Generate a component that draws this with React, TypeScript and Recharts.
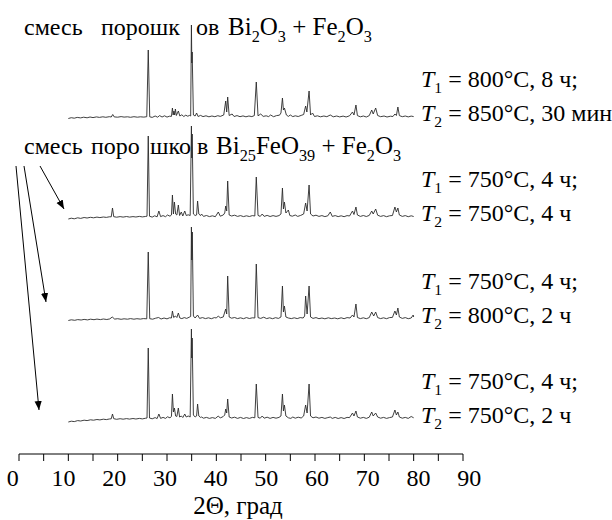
import React from 'react';
import { LineChart, Line, XAxis, YAxis } from 'recharts';

// 2θ (deg) and intensity (arb., baseline ~0) for every pattern
const pattern1: [number, number][] = [
  [10.0, -0.5], [10.6, 0.3], [11.2, -0.2], [11.8, 0.6], [12.5, 0.1], [13.1, 0.8], [13.8, 0.2], [14.4, 1.0],
  [15.0, 0.4], [15.7, 1.1], [16.3, 0.6], [17.0, 1.2], [17.6, 0.7], [18.3, 1.3], [18.7, 1.0], [19.0, 3.5],
  [19.3, 1.1], [20.0, 0.8], [20.7, 1.4], [21.3, 0.9], [22.0, 1.2], [22.6, 0.7], [23.3, 1.3], [24.0, 0.8],
  [24.6, 1.2], [25.3, 0.9], [25.9, 1.3], [26.2, 68], [26.5, 1.2], [27.0, 0.6], [27.6, 2.0], [28.1, 0.8],
  [28.5, 2.4], [29.0, 1.0], [29.5, 2.2], [30.0, 0.9], [30.5, 1.8], [30.9, 1.6], [31.1, 10], [31.25, 3],
  [31.4, 7], [31.55, 3], [31.7, 9], [31.9, 2.5], [32.3, 7], [32.6, 2], [33.0, 3.2], [33.4, 1.5],
  [33.8, 2.8], [34.2, 1.8], [34.6, 2.6], [34.8, 2], [34.95, 93], [35.03, 55], [35.1, 66], [35.35, 3],
  [35.7, 2], [36.0, 5], [36.3, 1.5], [36.8, 2.6], [37.3, 1.4], [37.9, 2.2], [38.5, 1.2], [39.1, 2.0],
  [39.7, 1.3], [40.3, 2.3], [40.8, 1.6], [41.5, 3], [41.9, 17], [42.1, 6], [42.3, 21], [42.6, 2.5],
  [43.2, 4], [43.6, 1.5], [44.2, 2.4], [44.8, 1.3], [45.4, 2.1], [46.0, 1.2], [46.6, 2.0], [47.2, 1.4],
  [47.7, 2.4], [48.1, 36], [48.45, 2.2], [49.0, 4], [49.5, 1.6], [50.1, 2.2], [50.6, 1.4], [51.0, 3],
  [51.6, 1.3], [52.2, 2.4], [52.8, 2.8], [53.1, 5], [53.4, 20], [53.6, 8], [53.8, 10], [54.2, 3],
  [54.6, 1.6], [55.0, 3], [55.5, 1.4], [56.0, 2.2], [56.6, 1.5], [57.2, 2.6], [57.7, 3.5], [58.1, 12],
  [58.35, 6], [58.8, 27], [59.1, 3], [59.5, 5], [59.9, 1.5], [60.5, 2.2], [61.1, 1.2], [61.8, 2.0],
  [62.4, 1.3], [63.1, 3], [63.7, 1.2], [64.4, 2.0], [65.0, 1.1], [65.7, 1.9], [66.3, 1.0], [67.0, 2.2],
  [67.6, 6], [67.9, 3], [68.3, 13], [68.6, 2.4], [69.2, 1.2], [69.8, 2.0], [70.4, 1.0], [71.0, 2.4],
  [71.5, 8], [71.8, 4], [72.3, 10], [72.7, 2.5], [73.3, 1.3], [74.0, 2.0], [74.6, 1.0], [75.3, 1.8],
  [75.8, 1.5], [76.2, 4], [76.5, 2.5], [76.8, 11], [77.1, 2.4], [77.7, 1.3], [78.3, 2.0], [78.9, 1.1],
  [79.5, 1.9], [80.0, 1.4],
];

const pattern2: [number, number][] = [
  [10.0, -1], [10.6, -0.2], [11.2, -0.8], [11.9, 0.2], [12.5, -0.4], [13.2, 0.5], [13.8, 0], [14.5, 0.7],
  [15.1, 0.2], [15.8, 0.9], [16.4, 0.4], [17.1, 1.0], [17.7, 0.6], [18.3, 1.2], [18.7, 1.2], [18.95, 10],
  [19.2, 1.3], [19.8, 0.8], [20.5, 1.4], [21.1, 0.9], [21.8, 1.5], [22.4, 0.9], [23.1, 1.4], [23.7, 1.0],
  [24.4, 1.6], [25.0, 1.1], [25.6, 1.5], [25.95, 1.8], [26.2, 82], [26.45, 1.8], [27.0, 0.9], [27.5, 2.2],
  [28.0, 1.2], [28.35, 7], [28.7, 1.4], [29.2, 2.4], [29.7, 1.3], [30.1, 3.0], [30.6, 1.8], [30.9, 3],
  [31.1, 23], [31.3, 4], [31.5, 16], [31.75, 4], [32.0, 3], [32.3, 13], [32.55, 2.5], [32.9, 6],
  [33.2, 2], [33.6, 7], [33.9, 2.5], [34.3, 3.2], [34.7, 2.5], [34.95, 92], [35.02, 60], [35.1, 84],
  [35.35, 4], [35.7, 2.5], [36.0, 3], [36.2, 17], [36.45, 4], [36.8, 2.4], [37.0, 4], [37.4, 1.6],
  [38.0, 2.5], [38.6, 1.4], [39.2, 2.2], [39.8, 1.3], [40.4, 6], [40.8, 1.8], [41.4, 3], [41.7, 5],
  [41.9, 12], [42.1, 7], [42.3, 37], [42.6, 3], [43.1, 2.0], [43.7, 2.8], [44.3, 1.6], [44.9, 2.4],
  [45.5, 1.4], [46.1, 2.2], [46.7, 1.5], [47.3, 2.4], [47.8, 2.0], [48.1, 41], [48.45, 2.6], [48.9, 1.6],
  [49.3, 4], [49.7, 1.6], [50.3, 2.6], [50.9, 1.5], [51.5, 2.4], [52.1, 1.6], [52.7, 2.4], [53.1, 4],
  [53.4, 30], [53.6, 9], [53.8, 16], [54.1, 5], [54.6, 8], [54.9, 2.5], [55.4, 1.8], [56.0, 3],
  [56.5, 1.6], [57.1, 2.6], [57.7, 4], [58.1, 15], [58.4, 7], [58.8, 33], [59.1, 4], [59.6, 2.0],
  [60.2, 2.8], [60.8, 1.6], [61.4, 2.4], [62.0, 1.4], [62.6, 2.2], [63.1, 6], [63.5, 1.6], [64.1, 2.4],
  [64.7, 1.4], [65.3, 2.2], [65.9, 1.3], [66.5, 2.4], [67.0, 2.0], [67.6, 7], [67.9, 3.5], [68.3, 11],
  [68.6, 3], [69.2, 1.6], [69.8, 2.5], [70.4, 1.5], [71.0, 2.6], [71.5, 7], [71.8, 4], [72.3, 9],
  [72.7, 2.8], [73.3, 1.6], [73.9, 2.4], [74.5, 1.3], [75.1, 2.2], [75.7, 2.5], [76.2, 11], [76.5, 6],
  [76.8, 10], [77.1, 3], [77.7, 1.6], [78.3, 2.4], [78.9, 1.3], [79.5, 2.2], [80.0, 1.5],
];

const pattern3: [number, number][] = [
  [10.0, -0.5], [10.6, 0.2], [11.3, -0.3], [11.9, 0.4], [12.6, 0], [13.2, 0.6], [13.9, 0.1], [14.5, 0.8],
  [15.2, 0.3], [15.8, 0.9], [16.5, 0.4], [17.1, 1.0], [17.8, 0.5], [18.4, 1.1], [18.9, 3], [19.4, 0.9],
  [20.0, 1.3], [20.7, 0.7], [21.3, 1.2], [22.0, 0.8], [22.6, 1.4], [23.3, 0.8], [23.9, 1.3], [24.6, 0.9],
  [25.2, 1.4], [25.9, 1.2], [26.2, 68], [26.5, 1.3], [27.1, 0.8], [27.7, 1.8], [28.3, 2.5], [28.8, 1.0],
  [29.4, 2.0], [30.0, 1.1], [30.5, 2.2], [30.9, 2.0], [31.1, 9], [31.35, 2.5], [31.7, 4], [32.0, 2.5],
  [32.3, 7], [32.6, 2], [33.0, 1.4], [33.5, 2.4], [34.0, 1.6], [34.5, 2.8], [34.8, 3.5], [34.95, 93],
  [35.03, 60], [35.12, 88], [35.35, 4], [35.7, 2], [36.2, 5], [36.6, 1.6], [37.2, 2.4], [37.8, 1.4],
  [38.4, 2.2], [39.0, 1.3], [39.6, 2.4], [40.0, 2.0], [40.4, 4], [40.8, 2.2], [41.4, 3], [41.9, 11],
  [42.1, 6], [42.3, 44], [42.6, 3], [43.1, 1.8], [43.7, 2.5], [44.3, 1.4], [44.9, 2.2], [45.5, 1.3],
  [46.1, 2.4], [46.7, 1.5], [47.3, 2.2], [47.8, 2.0], [48.1, 56], [48.45, 2.4], [49.0, 1.6], [49.6, 2.8],
  [50.2, 1.4], [50.8, 2.2], [51.4, 1.3], [52.0, 2.3], [52.6, 1.6], [53.1, 3], [53.4, 34], [53.6, 8],
  [53.8, 14], [54.1, 3], [54.6, 2.0], [55.2, 1.4], [55.8, 2.2], [56.4, 1.4], [57.0, 2.4], [57.6, 2.0],
  [57.9, 4], [58.1, 24], [58.4, 6], [58.8, 34], [59.1, 3], [59.6, 1.6], [60.2, 2.4], [60.8, 1.3],
  [61.4, 2.0], [62.0, 1.2], [62.7, 2.2], [63.3, 1.4], [64.0, 2.0], [64.6, 1.2], [65.3, 2.2], [65.9, 1.3],
  [66.5, 2.4], [67.1, 2.0], [67.6, 5], [67.9, 3], [68.3, 16], [68.6, 2.5], [69.2, 1.4], [69.8, 2.2],
  [70.4, 1.3], [71.0, 2.4], [71.5, 8], [71.9, 4], [72.3, 8], [72.7, 2.4], [73.3, 1.4], [73.9, 2.2],
  [74.5, 1.3], [75.1, 2.4], [75.7, 2.6], [76.2, 9], [76.5, 5], [76.8, 12], [77.1, 3], [77.7, 1.6],
  [78.3, 2.4], [78.9, 1.3], [79.5, 2.0], [79.9, 5], [80.0, 3],
];

const pattern4: [number, number][] = [
  [10.0, -2], [10.6, -1.2], [11.2, -1.6], [11.9, -0.6], [12.5, -1.0], [13.2, -0.2], [13.8, -0.6], [14.5, 0.2],
  [15.1, -0.2], [15.8, 0.5], [16.4, 0.1], [17.1, 0.8], [17.7, 0.4], [18.3, 1.0], [18.7, 1.2], [18.95, 6],
  [19.2, 1.3], [19.8, 0.7], [20.5, 1.3], [21.1, 0.8], [21.8, 1.4], [22.4, 0.9], [23.1, 1.5], [23.7, 1.0],
  [24.4, 1.6], [25.0, 1.1], [25.6, 1.7], [25.95, 2], [26.2, 72], [26.45, 2], [27.0, 1.2], [27.6, 2.4],
  [28.0, 1.4], [28.35, 6], [28.7, 1.6], [29.2, 2.6], [29.7, 1.6], [30.1, 3.2], [30.6, 2.2], [30.9, 3.5],
  [31.1, 26], [31.3, 8], [31.5, 12], [31.75, 4], [32.0, 3.5], [32.3, 12], [32.55, 3], [32.9, 4],
  [33.2, 2.5], [33.6, 6], [33.9, 3], [34.3, 4], [34.7, 3], [34.95, 91], [35.02, 62], [35.1, 82],
  [35.35, 5], [35.7, 3], [36.0, 4], [36.2, 16], [36.45, 4], [36.8, 2.6], [37.0, 3], [37.4, 1.8],
  [38.0, 2.6], [38.6, 1.6], [39.2, 2.4], [39.8, 1.6], [40.4, 4], [40.8, 2.0], [41.4, 3.5], [41.7, 5],
  [41.9, 11], [42.1, 7], [42.3, 21], [42.6, 3], [43.1, 2.0], [43.7, 2.8], [44.3, 1.6], [44.9, 2.6],
  [45.5, 1.5], [46.1, 2.4], [46.7, 1.6], [47.3, 2.6], [47.8, 2.2], [48.1, 36], [48.45, 2.6], [48.9, 1.8],
  [49.3, 4], [49.7, 1.8], [50.3, 2.8], [50.9, 1.6], [51.5, 2.6], [52.1, 1.8], [52.7, 2.6], [53.1, 4],
  [53.4, 26], [53.6, 9], [53.8, 15], [54.1, 4], [54.6, 2.2], [55.1, 1.6], [55.5, 3], [56.0, 1.8],
  [56.6, 2.8], [57.2, 2.0], [57.7, 4], [58.1, 15], [58.4, 7], [58.8, 36], [59.1, 4], [59.6, 2.2],
  [60.2, 3.0], [60.8, 1.8], [61.4, 2.6], [62.0, 1.6], [62.6, 2.4], [63.1, 3], [63.5, 1.6], [64.1, 2.6],
  [64.7, 1.5], [65.3, 2.4], [65.9, 1.5], [66.5, 2.6], [67.0, 2.4], [67.6, 7], [67.9, 4], [68.3, 9],
  [68.6, 3], [69.2, 1.8], [69.8, 2.6], [70.4, 1.6], [71.0, 2.8], [71.5, 8], [71.8, 4], [72.3, 7],
  [72.7, 3], [73.3, 1.8], [73.9, 2.6], [74.5, 1.6], [75.1, 2.4], [75.7, 3], [76.2, 10], [76.5, 5],
  [76.8, 8], [77.1, 3], [77.7, 1.8], [78.3, 2.6], [78.9, 1.6], [79.5, 3.5], [80.0, 2.2],
];

const xTicks = [0, 5, 10, 15, 20, 25, 30, 35, 40, 45, 50, 55, 60, 65, 70, 75, 80, 85, 90];
const xLabels = [0, 10, 20, 30, 40, 50, 60, 70, 80, 90];
const xTitle = '2Θ, град';

type Seg = { t: string; sub?: boolean; i?: boolean };

// titles are split where the peaks cut through them: [x, font size, pieces]
const title1: [number, number, Seg[]][] = [
  [24, 24, [{ t: 'смесь' }]],
  [101, 24, [{ t: 'порошк' }]],
  [196, 24, [{ t: 'ов' }]],
  [228, 25, [{ t: 'Bi' }, { t: '2', sub: true }, { t: 'O' }, { t: '3', sub: true }, { t: ' + Fe' }, { t: '2', sub: true }, { t: 'O' }, { t: '3', sub: true }]],
];
const title2: [number, number, Seg[]][] = [
  [24, 24, [{ t: 'смесь' }]],
  [91, 24, [{ t: 'поро' }]],
  [150, 24, [{ t: 'шко' }]],
  [197, 24, [{ t: 'в' }]],
  [216, 25, [{ t: 'Bi' }, { t: '25', sub: true }, { t: 'FeO' }, { t: '39', sub: true }, { t: ' + Fe' }, { t: '2', sub: true }, { t: 'O' }, { t: '3', sub: true }]],
];
const cond = (n: string, rest: string): Seg[] => [{ t: 'T', i: true }, { t: n, sub: true }, { t: rest }];
const conditions: Seg[][] = [
  cond('1', ' = 800°C, 8 ч;'), cond('2', ' = 850°C, 30 мин'),
  cond('1', ' = 750°C, 4 ч;'), cond('2', ' = 750°C, 4 ч'),
  cond('1', ' = 750°C, 4 ч;'), cond('2', ' = 800°C, 2 ч'),
  cond('1', ' = 750°C, 4 ч;'), cond('2', ' = 750°C, 2 ч'),
];

const toRows = (p: [number, number][]) => p.map(([x, y]) => ({ x, y }));

// Liberation Serif has no Cyrillic here; the narrower Liberation Sans covers it
const FONT = "'Liberation Serif', 'Liberation Sans'";
const PLOT_H = 454;
const baselines = [118, 218, 320, 420];
const patterns = [pattern1, pattern2, pattern3, pattern4];

const Rich = ({ x, y, segs, size }: { x: number; y: number; segs: Seg[]; size: number }) => {
  let shifted = false;
  const off = size * 0.26;
  return (
    <text x={x} y={y} fill="#000" style={{ whiteSpace: 'pre', fontFamily: FONT, fontSize: size }}>
      {segs.map((s, k) => {
        const dy = s.sub && !shifted ? off : !s.sub && shifted ? -off : 0;
        shifted = !!s.sub;
        return (
          <tspan key={k} dy={dy} style={{ fontSize: s.sub ? size * 0.65 : size, fontStyle: s.i ? 'italic' : 'normal' }}>
            {s.t}
          </tspan>
        );
      })}
    </text>
  );
};

const AxisTick = (props: any) => {
  const { x, y, payload } = props;
  if (!xLabels.includes(payload.value)) return <g />;
  return (
    <text x={x + (payload.value - 45) * 0.14} y={y + 23} textAnchor="middle" fill="#000" style={{ fontFamily: FONT, fontSize: 24 }}>
      {payload.value}
    </text>
  );
};

const arrows = [
  [40, 166, 64, 209],
  [24, 166, 46, 302],
  [16, 166, 39, 410],
];

export default function App() {
  return (
    <div style={{ position: 'absolute', left: 0, top: 0, width: 612, height: 520, background: '#fff' }}>
      <LineChart width={612} height={520} margin={{ top: 0, right: 149, bottom: 0, left: 19 }}>
        <XAxis
          type="number"
          dataKey="x"
          domain={[0, 90]}
          allowDataOverflow
          ticks={xTicks}
          interval={0}
          height={520 - PLOT_H}
          tickSize={7}
          tickMargin={2}
          stroke="#000"
          tick={<AxisTick />}
        />
        {baselines.map((b, i) => (
          <YAxis key={i} yAxisId={`p${i}`} hide domain={[b - PLOT_H, b]} allowDataOverflow />
        ))}
        {patterns.map((p, i) => (
          <Line
            key={i}
            yAxisId={`p${i}`}
            data={toRows(p)}
            dataKey="y"
            type="linear"
            stroke="#2a2a2a"
            strokeWidth={0.9}
            dot={false}
            activeDot={false}
            isAnimationActive={false}
          />
        ))}
      </LineChart>
      <svg width={612} height={520} style={{ position: 'absolute', left: 0, top: 0, pointerEvents: 'none' }}>
        <defs>
          <marker id="ah" viewBox="0 0 10 10" refX="10" refY="5" markerWidth="9" markerHeight="9" orient="auto" markerUnits="userSpaceOnUse">
            <path d="M0,1 L10,5 L0,9 z" fill="#000" />
          </marker>
        </defs>
        {title1.map(([x, size, segs], i) => <Rich key={`a${i}`} x={x} y={35} segs={segs} size={size} />)}
        {title2.map(([x, size, segs], i) => <Rich key={`b${i}`} x={x} y={154} segs={segs} size={size} />)}
        {conditions.map((c, i) => {
          const b = baselines[Math.floor(i / 2)];
          const y = i % 2 === 0 ? b - 31 : b + 3;
          return <Rich key={i} x={421} y={y} segs={c} size={24} />;
        })}
        {arrows.map(([x1, y1, x2, y2], i) => (
          <line key={i} x1={x1} y1={y1} x2={x2} y2={y2} stroke="#000" strokeWidth={1} markerEnd="url(#ah)" />
        ))}
        <text x={238} y={514} textAnchor="middle" fill="#000" style={{ fontFamily: FONT, fontSize: 25 }}>
          {xTitle}
        </text>
      </svg>
    </div>
  );
}
